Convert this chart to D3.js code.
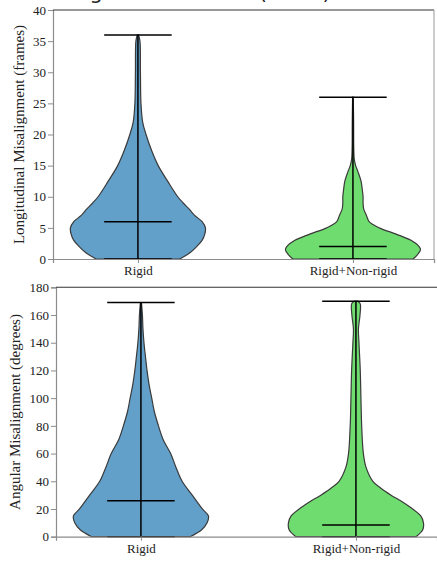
<!DOCTYPE html>
<html>
<head>
<meta charset="utf-8">
<script src="https://cdn.jsdelivr.net/npm/d3@7"></script>
<style>
  body { margin: 0; background: #fff; }
  svg { display: block; }
</style>
</head>
<body>
<svg id="chart" width="437" height="561"></svg>
<script>
const width = 437
const height = 561

const categories = ['Rigid', 'Rigid+Non-rigid']
const positions = [1, 2]

// longitudinal misalignment (frames), density profiles
const lonRigidY    = [0, 1, 2, 3, 4, 5, 6, 7, 8, 9, 10, 12.5, 15, 17.5, 20, 22, 25, 30, 35, 36]
const lonRigidDens = [0.62, 0.77, 0.87, 0.95, 0.99, 1, 0.95, 0.84, 0.76, 0.67, 0.59, 0.44, 0.30, 0.20, 0.12, 0.07, 0.045, 0.037, 0.03, 0.01]
const lonBothY     = [0, 0.75, 1.5, 2, 3, 4, 5, 6, 7, 8, 9, 10, 11, 12.5, 14, 15, 16, 18, 22, 26]
const lonBothDens  = [0.89, 0.96, 1, 0.98, 0.86, 0.64, 0.39, 0.24, 0.2, 0.16, 0.15, 0.15, 0.14, 0.12, 0.075, 0.04, 0.02, 0.012, 0.01, 0.005]
const lonMedians = [6, 2]
const lonMins = [0, 0]
const lonMaxs = [36, 26]
const lonTicks = [0, 5, 10, 15, 20, 25, 30, 35, 40]

// angular misalignment (degrees)
const angRigidY    = [0, 5, 10, 15, 20, 30, 40, 50, 60, 70, 80, 90, 100, 110, 120, 130, 140, 150, 160, 169]
const angRigidDens = [0.73, 0.9, 0.98, 1, 0.91, 0.76, 0.61, 0.52, 0.44, 0.33, 0.26, 0.2, 0.16, 0.12, 0.09, 0.067, 0.045, 0.03, 0.022, 0.008]
const angBothY     = [0, 5, 10, 15, 20, 25, 30, 35, 40, 50, 60, 80, 100, 120, 140, 150, 160, 168, 170]
const angBothDens  = [0.89, 0.99, 1, 0.96, 0.84, 0.69, 0.52, 0.37, 0.25, 0.15, 0.11, 0.085, 0.074, 0.064, 0.045, 0.037, 0.06, 0.064, 0.03]
const angMedians = [26, 8.5]
const angMins = [0, 0]
const angMaxs = [169, 170]
const angTicks = [0, 20, 40, 60, 80, 100, 120, 140, 160, 180]

const fills = ['#62a0ca', '#6fdc6f']
const serif = "'Liberation Serif', 'Times New Roman', serif"

const svg = d3.select('#chart')

// title is cut off by the top edge of the figure
svg.append('text')
  .attr('x', 30)
  .attr('y', -1)
  .attr('font-family', "'DejaVu Sans', sans-serif")
  .attr('font-size', 21)
  .attr('fill', '#222')
  .text('Misalignment criteria (Tau 5)')

let panels = [
  { left: 53, right: 434, top: 10, bottom: 259, yMax: 40, ticks: lonTicks,
    label: 'Longitudinal Misalignment (frames)', labelX: 21, rightSpine: true,
    series: [[lonRigidY, lonRigidDens], [lonBothY, lonBothDens]],
    medians: lonMedians, mins: lonMins, maxs: lonMaxs },
  { left: 56, right: 437, top: 287.3, bottom: 536.7, yMax: 180, ticks: angTicks,
    label: 'Angular Misalignment (degrees)', labelX: 17, rightSpine: false,
    series: [[angRigidY, angRigidDens], [angBothY, angBothDens]],
    medians: angMedians, mins: angMins, maxs: angMaxs }
]

// density 1 -> half width in x units
let widthScale = d3.scaleLinear().domain([0, 1]).range([0, 0.314])
let capHalf = 0.157

panels.forEach(p => {
  let x = d3.scaleLinear().domain([0.605, 2.377]).range([p.left, p.right])
  let y = d3.scaleLinear().domain([0, p.yMax]).range([p.bottom, p.top])

  let g = svg.append('g')

  // violins
  p.series.forEach((s, i) => {
    let c = positions[i]
    let pts = s[0].map((v, j) => ({ v: v, w: widthScale(s[1][j]) }))
    let area = d3.area()
      .curve(d3.curveCatmullRom)
      .y(d => y(d.v))
      .x0(d => x(c - d.w))
      .x1(d => x(c + d.w))
    g.append('path')
      .datum(pts)
      .attr('d', area)
      .attr('fill', fills[i])
      .attr('stroke', '#3a3a3a')
      .attr('stroke-width', 1.2)
  })

  // stat bars
  positions.forEach((c, i) => {
    g.append('line')
      .attr('x1', x(c)).attr('x2', x(c))
      .attr('y1', y(p.mins[i])).attr('y2', y(p.maxs[i]))
      .attr('stroke', '#000').attr('stroke-width', 1.5)
    ;[p.mins[i], p.maxs[i], p.medians[i]].forEach(v => {
      g.append('line')
        .attr('x1', x(c - capHalf)).attr('x2', x(c + capHalf))
        .attr('y1', y(v)).attr('y2', y(v))
        .attr('stroke', '#000').attr('stroke-width', 1.5)
    })
  })

  // axes
  let yAxis = g.append('g')
    .attr('transform', 'translate(' + p.left + ',0)')
    .call(d3.axisLeft(y).tickValues(p.ticks).tickSize(5).tickPadding(2))
    .attr('font-family', serif)
    .attr('font-size', 13)
  yAxis.select('.domain').attr('stroke', '#8c8c8c').attr('stroke-width', 1.2)
  yAxis.selectAll('.tick line').attr('stroke', '#8c8c8c')
  yAxis.selectAll('.tick text').attr('fill', '#222')

  let xAxis = g.append('g')
    .attr('transform', 'translate(0,' + p.bottom + ')')
    .call(d3.axisBottom(x).tickValues(positions).tickFormat((d, i) => categories[i]).tickSize(4).tickPadding(3))
    .attr('font-family', serif)
    .attr('font-size', 13)
  xAxis.select('.domain').attr('stroke', '#8c8c8c').attr('stroke-width', 1.2)
  xAxis.selectAll('.tick line').attr('stroke', '#8c8c8c')
  xAxis.selectAll('.tick text').attr('fill', '#222')

  // top spine
  g.append('line')
    .attr('x1', p.left).attr('x2', p.right)
    .attr('y1', p.top).attr('y2', p.top)
    .attr('stroke', '#333').attr('stroke-width', 1.1)

  if (p.rightSpine) {
    g.append('line')
      .attr('x1', p.right).attr('x2', p.right)
      .attr('y1', p.top).attr('y2', p.bottom)
      .attr('stroke', '#9a9a9a').attr('stroke-width', 1)
  }

  // y label
  g.append('text')
    .attr('transform', 'translate(' + p.labelX + ',' + ((p.top + p.bottom) / 2) + ') rotate(-90)')
    .attr('text-anchor', 'middle')
    .attr('dominant-baseline', 'middle')
    .attr('font-family', serif)
    .attr('font-size', 15)
    .attr('fill', '#222')
    .text(p.label)
})
</script>
</body>
</html>
